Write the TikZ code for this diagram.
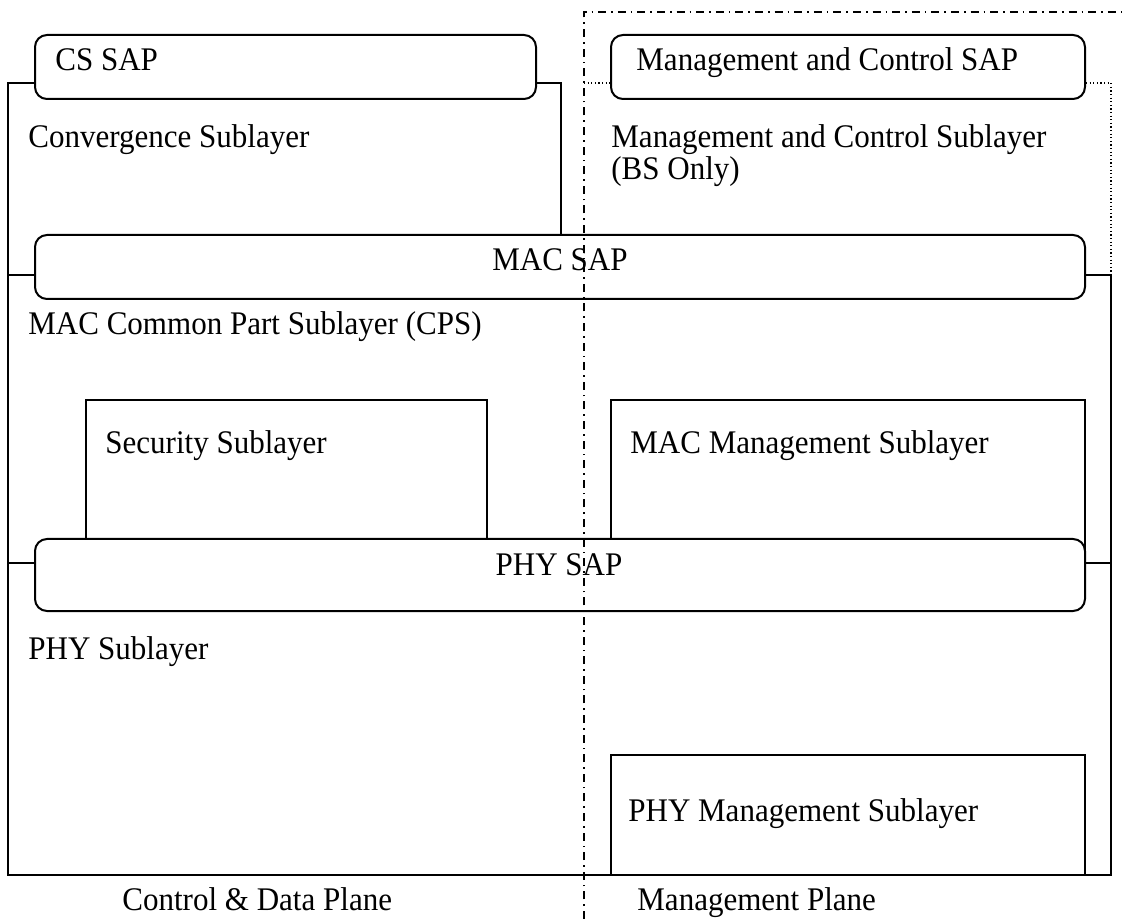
\documentclass[tikz,border=0pt]{standalone}
\usepackage{fontspec}
\setmainfont[FakeStretch=0.94]{Liberation Serif}
\begin{document}
\begin{tikzpicture}[x=0.5pt,y=-0.5pt,
  sap/.style={draw, line width=1pt, rounded corners=6pt, fill=white, inner sep=0pt},
  sub/.style={draw, line width=1pt, fill=white, inner sep=0pt},
  lbl/.style={anchor=base west, inner sep=0pt, font=\fontsize{16.5pt}{16pt}\selectfont, align=left},
  clbl/.style={anchor=base, inner sep=0pt, font=\fontsize{16.5pt}{16pt}\selectfont},
  solidline/.style={line width=1pt},
  dotline/.style={line width=0.8pt, dash pattern=on 0.6pt off 1.2pt},
  planeline/.style={line width=1pt, dash pattern=on 4pt off 2.5pt on 0.8pt off 2.5pt}]
\useasboundingbox (0,0) rectangle (1125,919);

% Sublayer boxes (partly hidden behind the SAP bars)
\node[sub, minimum width=200.5pt, minimum height=87.5pt] (sec) at (286,487.5) {};
\node[sub, minimum width=237pt, minimum height=87.5pt] (macm) at (848,487.5) {};
\node[sub, minimum width=237pt, minimum height=60pt] (phym) at (848,815) {};

% Bracket corners
\coordinate (ltop) at (8,83);
\coordinate (lbot) at (8,875);
\coordinate (rbot) at (1111,875);
\coordinate (rmid) at (1111,275);
\coordinate (rtop) at (1111,83);
\coordinate (cscorner) at (561,83);
\coordinate (mcleft) at (584,83);

% SAP bars
\node[sap, minimum width=250.5pt, minimum height=32pt] (cs) at (285.5,67) {};
\node[sap, minimum width=237pt, minimum height=32pt] (mc) at (848,67) {};
\node[sap, minimum width=525pt, minimum height=32pt] (mac) at (560,267) {};
\node[sap, minimum width=525pt, minimum height=36pt] (phy) at (560,575) {};

\draw[solidline] (cs.west |- ltop) -- (ltop) -- (lbot) -- (rbot) -- (rmid) -- (mac.east |- rmid);
\draw[solidline] (cs.east |- cscorner) -- (cscorner) -- (cscorner |- mac.north);
\draw[solidline] (ltop |- 0,275) -- (mac.west |- 0,275);
\draw[solidline] (ltop |- 0,563) -- (phy.west |- 0,563);
\draw[solidline] (phy.east |- 0,563) -- (rtop |- 0,563);
\draw[dotline] (mcleft) -- (mc.west |- mcleft);
\draw[dotline] (mc.east |- rtop) -- (rtop) -- (rmid);

% Labels
\node[lbl] (tcs) at (55,71) {CS SAP};
\node[lbl] (tconv) at (28,148) {Convergence Sublayer};
\node[lbl] (tmc) at (636,71) {Management and Control SAP};
\node[lbl] (tmcs) at (611,180) {Management and Control Sublayer\\(BS Only)};
\node[clbl] (tmac) at (560,271) {MAC SAP};
\node[lbl] (tcps) at (28,335) {MAC Common Part Sublayer (CPS)};
\node[lbl] (tsec) at (105,454) {Security Sublayer};
\node[lbl] (tmacm) at (630,454) {MAC Management Sublayer};
\node[clbl] (tphy) at (559,575) {PHY SAP};
\node[lbl] (tphys) at (28,660) {PHY Sublayer};
\node[lbl] (tphym) at (628,821) {PHY Management Sublayer};
\node[lbl] (tcdp) at (122,910) {Control \& Data Plane};
\node[lbl] (tmp) at (637,910) {Management Plane};

% Plane separator
\coordinate (pltop) at (584,12);
\coordinate (plright) at (1125,12);
\coordinate (plbot) at (584,919);
\draw[planeline] (plbot) -- (pltop) -- (plright);
\end{tikzpicture}
\end{document}
